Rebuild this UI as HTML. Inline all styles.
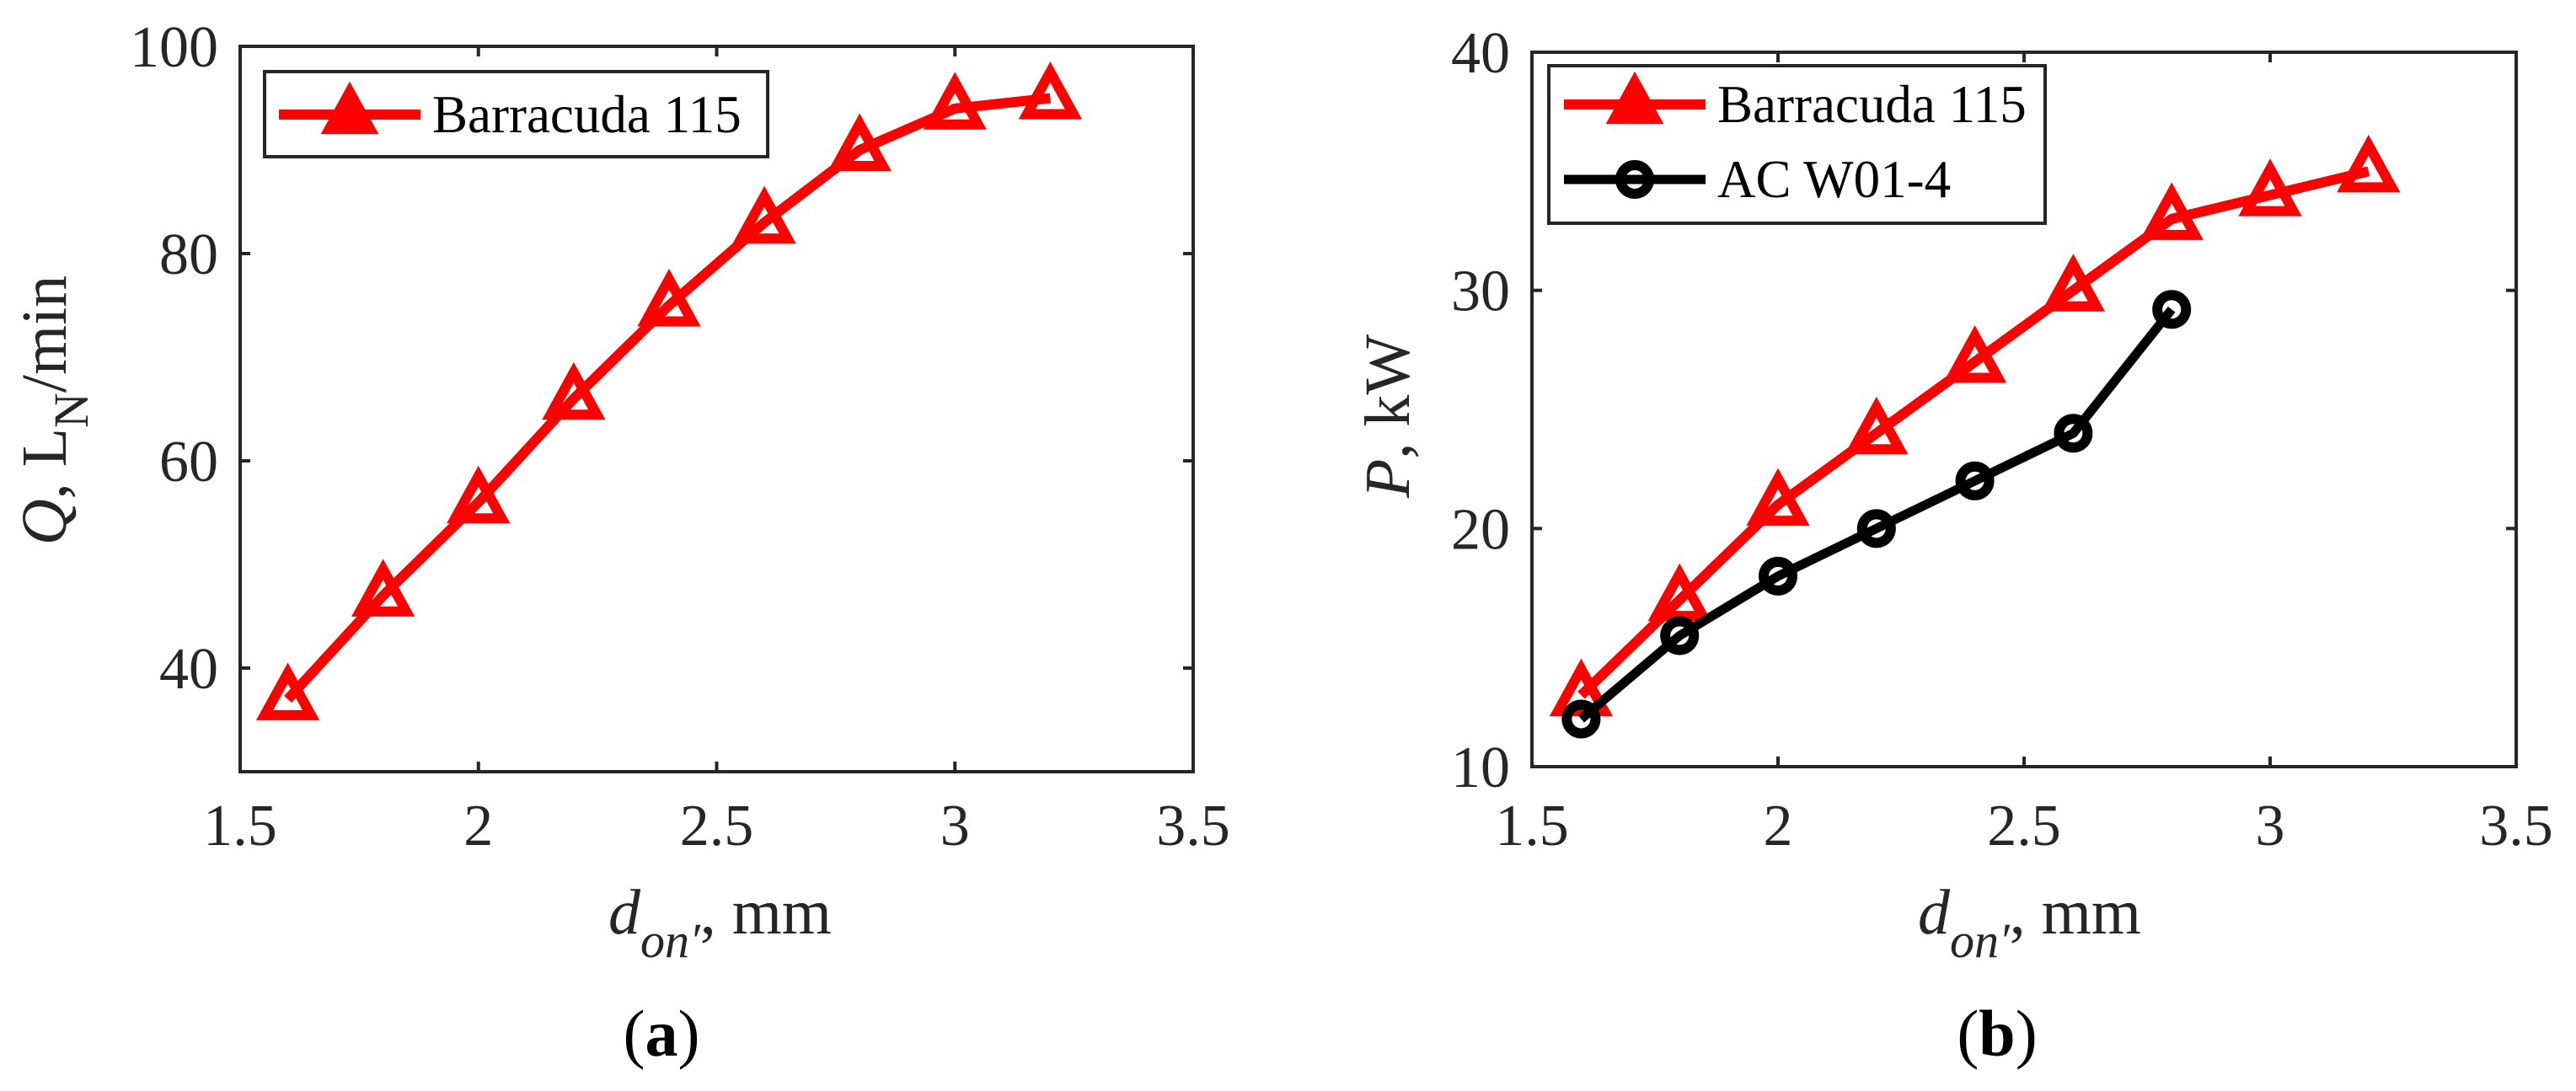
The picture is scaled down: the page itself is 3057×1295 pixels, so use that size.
<!DOCTYPE html>
<html><head><meta charset="utf-8"><style>
html,body{margin:0;padding:0;background:#fff;}
svg{display:block;font-family:"Liberation Serif",serif;}
</style></head><body>
<svg id="fig" width="3057" height="1295" viewBox="0 0 3057 1295" xmlns="http://www.w3.org/2000/svg">
<g id="pa"></g>
<g id="pb"></g>
</svg>
<script>
const xCats = [1.6, 1.8, 2.0, 2.2, 2.4, 2.6, 2.8, 3.0, 3.2];
const qBarracuda = [37, 47, 56, 66, 75, 83, 90, 94, 95];
const pBarracuda = [13, 17, 21, 24, 27, 30, 33, 34, 35];
const xCatsAC = [1.6, 1.8, 2.0, 2.2, 2.4, 2.6, 2.8];
const pAC = [12, 15.5, 18, 20, 22, 24, 29.2];
const xTicks = [1.5, 2, 2.5, 3, 3.5];
const xTickLabels = ["1.5", "2", "2.5", "3", "3.5"];
const yTicksA = [40, 60, 80, 100];
const yTicksB = [10, 20, 30, 40];

const NS = "http://www.w3.org/2000/svg";
function mk(tag, attrs, parent){const e=document.createElementNS(NS,tag);for(const k in attrs)e.setAttribute(k,attrs[k]);parent.appendChild(e);return e;}

function panel(g, box, xmin, xmax, ymin, ymax, yTicks){
  const sx=v=>box.x0+(v-xmin)/(xmax-xmin)*(box.x1-box.x0);
  const sy=v=>box.y1-(v-ymin)/(ymax-ymin)*(box.y1-box.y0);
  const ax=mk('g',{},g);
  
  
  const fr=mk('rect',{x:box.x0,y:box.y0,width:box.x1-box.x0,height:box.y1-box.y0,fill:'none',stroke:'#262626','stroke-width':4},ax);
  
  
  xTicks.forEach((t,i)=>{
    const x=sx(t);
    mk('line',{x1:x,y1:box.y1,x2:x,y2:box.y1-12,stroke:'#262626','stroke-width':4},ax);
    mk('line',{x1:x,y1:box.y0,x2:x,y2:box.y0+12,stroke:'#262626','stroke-width':4},ax);
    const tx=mk('text',{x:x,y:1003,'font-size':70,'text-anchor':'middle',fill:'#262626'},ax);
    tx.textContent=xTickLabels[i];
    
    
  });
  yTicks.forEach(t=>{
    const y=sy(t);
    mk('line',{x1:box.x0,y1:y,x2:box.x0+12,y2:y,stroke:'#262626','stroke-width':4},ax);
    mk('line',{x1:box.x1,y1:y,x2:box.x1-12,y2:y,stroke:'#262626','stroke-width':4},ax);
    const tx=mk('text',{x:box.x0-26,y:y+24,'font-size':70,'text-anchor':'end',fill:'#262626'},ax);
    tx.textContent=String(t);
    
    
  });
  return {sx,sy};
}
function tri(parent,x,y,s,w){return mk('polygon',{points:`${x},${y-s*0.62} ${x-s*0.55},${y+s*0.38} ${x+s*0.55},${y+s*0.38}`,fill:'none',stroke:'#ff0000','stroke-width':w,'stroke-linejoin':'miter'},parent);}
function series(g,s,xs,ys,color,kind,name){
  const sg=mk('g',{},g);
  
  
  const pts=xs.map((x,i)=>s.sx(x)+','+s.sy(ys[i])).join(' ');
  mk('polyline',{points:pts,fill:'none',stroke:color,'stroke-width':kind==='tri'?12:11,'stroke-linejoin':'round'},sg);
  xs.forEach((x,i)=>{
    let m;
    if(kind==='tri') m=tri(sg,s.sx(x),s.sy(ys[i]),50,12);
    else m=mk('circle',{cx:s.sx(x),cy:s.sy(ys[i]),r:17,fill:'none',stroke:color,'stroke-width':12},sg);
    
    
  });
}
function xlabel(g,cx){
  const t=mk('text',{x:cx-130,y:1108,'font-size':76,fill:'#262626'},g);
  
  
  t.innerHTML='<tspan font-style="italic">d</tspan><tspan font-style="italic" font-size="58" dy="28">on′</tspan><tspan dy="-28">, mm</tspan>';
}
function legendEntry(g,y,x0,kind,color,label){
  const e=mk('g',{},g);
  
  
  mk('line',{x1:x0,y1:y,x2:x0+168,y2:y,stroke:color,'stroke-width':kind==='tri'?12:11},e);
  if(kind==='tri'){const p=tri(e,x0+84,y,50,8);p.setAttribute('fill','#ff0000');}
  else mk('circle',{cx:x0+84,cy:y,r:17,fill:'none',stroke:color,'stroke-width':12},e);
  const t=mk('text',{x:x0+182,y:y+21,'font-size':63,fill:'#000'},e);
  t.textContent=label;
}

// Panel a
const ga=document.getElementById('pa');
const sa=panel(ga,{x0:285,x1:1416,y0:55,y1:916},1.5,3.5,30,100,yTicksA);
series(ga,sa,xCats,qBarracuda,'#ff0000','tri','series-barracuda-115');
const la=mk('g',{},ga);


mk('rect',{x:314,y:85,width:597,height:101,fill:'#fff',stroke:'#262626','stroke-width':4},la);
legendEntry(la,136,331,'tri','#ff0000','Barracuda 115');
const ya=mk('text',{x:0,y:0,'font-size':76,fill:'#262626','text-anchor':'middle',transform:'translate(78,487) rotate(-90)'},ga);


ya.innerHTML='<tspan font-style="italic">Q</tspan>, L<tspan font-size="58" dy="26">N</tspan><tspan dy="-26">/min</tspan>';
xlabel(ga,852);
const ca=mk('text',{x:785,y:1253,'font-size':78,'text-anchor':'middle',fill:'#000'},ga);


ca.innerHTML='(<tspan font-weight="bold">a</tspan>)';

// Panel b
const gb=document.getElementById('pb');
const sb=panel(gb,{x0:1818,x1:2986,y0:62,y1:910},1.5,3.5,10,40,yTicksB);
series(gb,sb,xCats,pBarracuda,'#ff0000','tri','series-barracuda-115');
series(gb,sb,xCatsAC,pAC,'#000000','circ','series-ac-w01-4');
const lb=mk('g',{},gb);


mk('rect',{x:1838,y:78,width:589,height:187,fill:'#fff',stroke:'#262626','stroke-width':4},lb);
legendEntry(lb,124,1856,'tri','#ff0000','Barracuda 115');
legendEntry(lb,213,1856,'circ','#000000','AC W01-4');
const yb=mk('text',{x:0,y:0,'font-size':76,fill:'#262626','text-anchor':'middle',transform:'translate(1672,494) rotate(-90)'},gb);


yb.innerHTML='<tspan font-style="italic">P</tspan>, kW';
xlabel(gb,2406);
const cb=mk('text',{x:2370,y:1253,'font-size':78,'text-anchor':'middle',fill:'#000'},gb);


cb.innerHTML='(<tspan font-weight="bold">b</tspan>)';
</script>
</body></html>
